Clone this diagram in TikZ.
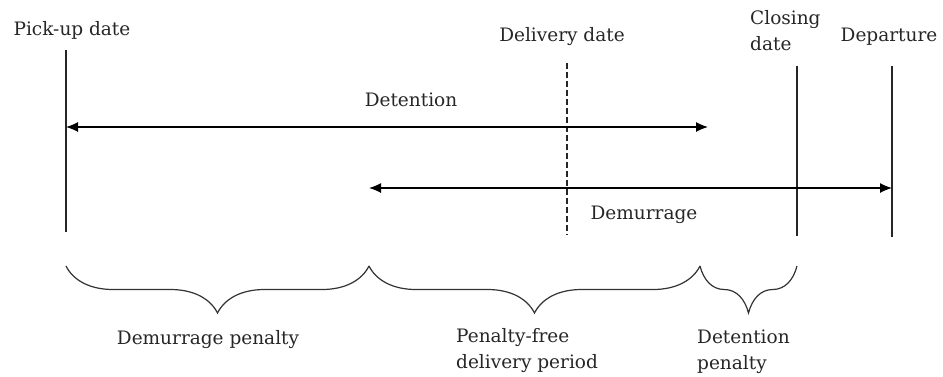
\documentclass[tikz,border=0pt]{standalone}
\usepackage{fontspec}
\setmainfont{DejaVu Serif}
\usetikzlibrary{arrows.meta}
\usetikzlibrary{positioning}
\usetikzlibrary{decorations.pathreplacing}
\tikzset{x=1pt, y=-1pt,
every node/.style={ % Labels of the time line
font=\fontsize{18.5}{26}\selectfont,
text=black!85,
inner sep=0pt},
marker/.style={ % Vertical date lines
line width=1.2pt,
draw=black!85},
span/.style={ % Double headed spans
line width=1.2pt,
{Latex[length=12pt,width=10pt]}-{Latex[length=12pt,width=10pt]}},
period/.style={ % Braces under the time line
line width=1.2pt,
draw=black!80,
decorate,
decoration={brace, mirror, amplitude=47pt}}}

\begin{document}
\begin{tikzpicture}
\useasboundingbox (0,0) rectangle (943,376);
% dates
\node (pickup) at (72,30) {Pick-up date};
\node (delivery) at (562,37) {Delivery date};
\node[align=left, anchor=west] (closing) at (750,31) {Closing\\date};
\node (departure) at (889,37) {Departure};
\coordinate (p1) at (66,50);  \coordinate (p2) at (66,232);
\coordinate (d1) at (567,63); \coordinate (d2) at (567,235);
\coordinate (c1) at (797,66); \coordinate (c2) at (797,236);
\coordinate (e1) at (892,66); \coordinate (e2) at (892,237);
\draw[marker] (p1) -- (p2);
\draw[marker, dash pattern=on 6pt off 3pt] (d1) -- (d2);
\draw[marker] (c1) -- (c2);
\draw[marker] (e1) -- (e2);
% spans
\coordinate (t1) at (66,127);  \coordinate (t2) at (708,127);
\coordinate (m1) at (369,188); \coordinate (m2) at (892,188);
\draw[span] (t1) -- (t2);
\draw[span] (m1) -- (m2);
\node (detention) at (411,100) {Detention};
\node (demurrage) at (644,215) {Demurrage};
% penalty periods
\coordinate (b1) at (66,266);  \coordinate (b2) at (369,266);
\coordinate (b3) at (700,266); \coordinate (b4) at (797,266);
\draw[period] (b1) -- (b2);
\draw[period] (b2) -- (b3);
\draw[period] (b3) -- (b4);
\node (dempen) at (208,340) {Demurrage penalty};
\node[align=left, anchor=west] (free) at (456,351) {Penalty-free\\delivery period};
\node[align=left, anchor=west] (detpen) at (697,352) {Detention\\penalty};
\end{tikzpicture}
\end{document}
